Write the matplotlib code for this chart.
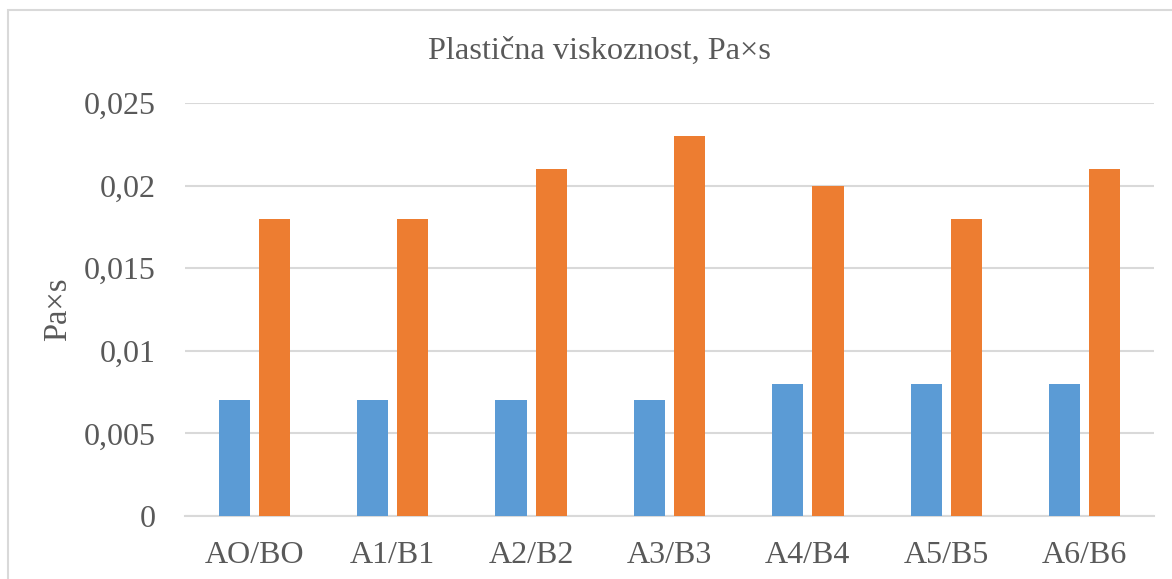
import numpy as np
import matplotlib.pyplot as plt
from matplotlib.patches import Rectangle
from matplotlib.ticker import FuncFormatter

categories = ["AO/BO", "A1/B1", "A2/B2", "A3/B3", "A4/B4", "A5/B5", "A6/B6"]
series_a = [0.007, 0.007, 0.007, 0.007, 0.008, 0.008, 0.008]
series_b = [0.018, 0.018, 0.021, 0.023, 0.020, 0.018, 0.021]
y_ticks = [0, 0.005, 0.01, 0.015, 0.02, 0.025]

text_col = "#595959"
grid_col = "#d9d9d9"
plt.rcParams['font.family'] = ['Liberation Serif', 'DejaVu Serif']

fig = plt.figure(figsize=(11.72, 5.79), dpi=100)
# chart frame (cut off at right and bottom)
fig.patches.append(Rectangle((8 / 1172, -0.1), 1.2, 1.1 - 10 / 579, transform=fig.transFigure,
                             fill=False, edgecolor=grid_col, linewidth=1.5))

ax = fig.add_axes([185 / 1172, 1 - 516 / 579, 969 / 1172, 413 / 579])
x = np.arange(len(categories))
w = 0.224
ax.bar(x - 0.145, series_a, w, color="#5b9bd5", zorder=3)
ax.bar(x + 0.145, series_b, w, color="#ed7d31", zorder=3)

ax.set_xlim(-0.5, len(categories) - 0.5)
ax.set_ylim(0, 0.025)
ax.set_yticks(y_ticks)
ax.yaxis.set_major_formatter(FuncFormatter(lambda v, p: "0" if v == 0 else ("%g" % v).replace(".", ",")))
ax.set_xticks(x)
ax.set_xticklabels(categories)
ax.grid(axis="y", color=grid_col, linewidth=1.5, zorder=0)
for s in ["top", "right", "left"]:
    ax.spines[s].set_visible(False)
ax.spines["bottom"].set_color(grid_col)
ax.spines["bottom"].set_linewidth(1.5)
ax.tick_params(axis="both", length=0, colors=text_col)
ax.tick_params(axis="y", labelsize=23, pad=21)
ax.tick_params(axis="x", labelsize=23, pad=18)
ax.set_ylabel("Pa×s", fontsize=23.5, color=text_col, labelpad=8)
fig.text(599 / 1172, 1 - 51 / 579, "Plastična viskoznost, Pa×s", ha="center", va="center",
         fontsize=23.3, color=text_col)

fig.savefig("out.png", dpi=100)
